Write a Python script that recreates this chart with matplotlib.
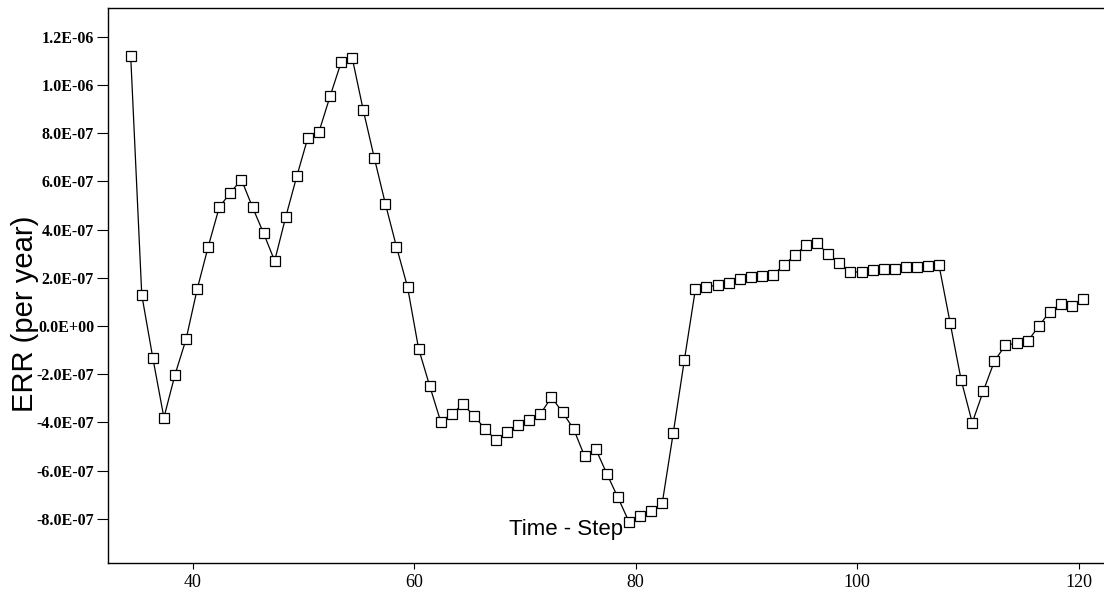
import matplotlib
matplotlib.use("Agg")
import matplotlib.pyplot as plt
from matplotlib.ticker import FuncFormatter
import numpy as np

# time steps and ERR values
time_step = np.arange(34, 121)
err = [1.120e-6, 1.29e-7, -1.33e-7, -3.80e-7, -2.02e-7, -0.55e-7, 1.52e-7,
       3.29e-7, 4.93e-7, 5.53e-7, 6.07e-7, 4.93e-7, 3.85e-7, 2.70e-7,
       4.52e-7, 6.21e-7, 7.81e-7, 8.05e-7, 9.52e-7, 1.093e-6, 1.113e-6,
       8.96e-7, 6.97e-7, 5.07e-7, 3.29e-7, 1.62e-7, -0.94e-7, -2.48e-7,
       -3.97e-7, -3.65e-7, -3.25e-7, -3.72e-7, -4.27e-7, -4.73e-7, -4.41e-7,
       -4.11e-7, -3.90e-7, -3.65e-7, -2.95e-7, -3.58e-7, -4.27e-7, -5.41e-7,
       -5.10e-7, -6.13e-7, -7.11e-7, -8.12e-7, -7.90e-7, -7.66e-7, -7.36e-7,
       -4.43e-7, -1.42e-7, 1.53e-7, 1.62e-7, 1.70e-7, 1.78e-7, 1.94e-7,
       2.02e-7, 2.07e-7, 2.13e-7, 2.52e-7, 2.96e-7, 3.35e-7, 3.44e-7,
       2.97e-7, 2.60e-7, 2.24e-7, 2.24e-7, 2.31e-7, 2.38e-7, 2.38e-7,
       2.45e-7, 2.45e-7, 2.50e-7, 2.52e-7, 0.14e-7, -2.24e-7, -4.01e-7,
       -2.70e-7, -1.46e-7, -0.79e-7, -0.72e-7, -0.64e-7, -0.01e-7, 0.59e-7,
       0.91e-7, 0.83e-7, 1.13e-7]

x_ticks = [40, 60, 80, 100, 120]
y_ticks = [-8e-7, -6e-7, -4e-7, -2e-7, 0.0, 2e-7, 4e-7, 6e-7, 8e-7, 1.0e-6, 1.2e-6]

fig = plt.figure(figsize=(11.04, 5.95), dpi=100)
ax = fig.add_axes([108 / 1104, 32 / 595, 996 / 1104, 555 / 595])

# points sit a little right of the integer grid in the original
ax.plot(time_step + 0.4, err, '-', color='black', linewidth=0.9,
        marker='s', markersize=7.5, markerfacecolor='white',
        markeredgecolor='black', markeredgewidth=0.9)

ax.set_xlim(32.35, 122.3)
ax.set_ylim(-9.83e-7, 1.319e-6)
ax.set_xticks(x_ticks)
ax.set_yticks(y_ticks)
ax.yaxis.set_major_formatter(FuncFormatter(lambda v, p: f'{v:.1E}'))

for lab in ax.get_yticklabels():
    lab.set_family('Liberation Serif')
    lab.set_fontweight('bold')
    lab.set_fontsize(11.5)
for lab in ax.get_xticklabels():
    lab.set_family('Liberation Serif')
    lab.set_fontsize(13)

ax.tick_params(axis='y', direction='out', length=8, width=0.8, pad=2)
ax.tick_params(axis='x', direction='out', length=4, width=0.8, pad=4)
ax.spines['right'].set_visible(False)
for s in ['left', 'bottom', 'top']:
    ax.spines[s].set_linewidth(1.0)

ax.text(73.7, -8.42e-7, 'Time - Step', family='Liberation Sans',
        fontsize=16, ha='center', va='center')
fig.text(25 / 1104, 1 - 314 / 595, 'ERR (per year)', family='Liberation Sans',
         fontsize=21, rotation=90, ha='center', va='center')

fig.savefig('out.png', dpi=100)
